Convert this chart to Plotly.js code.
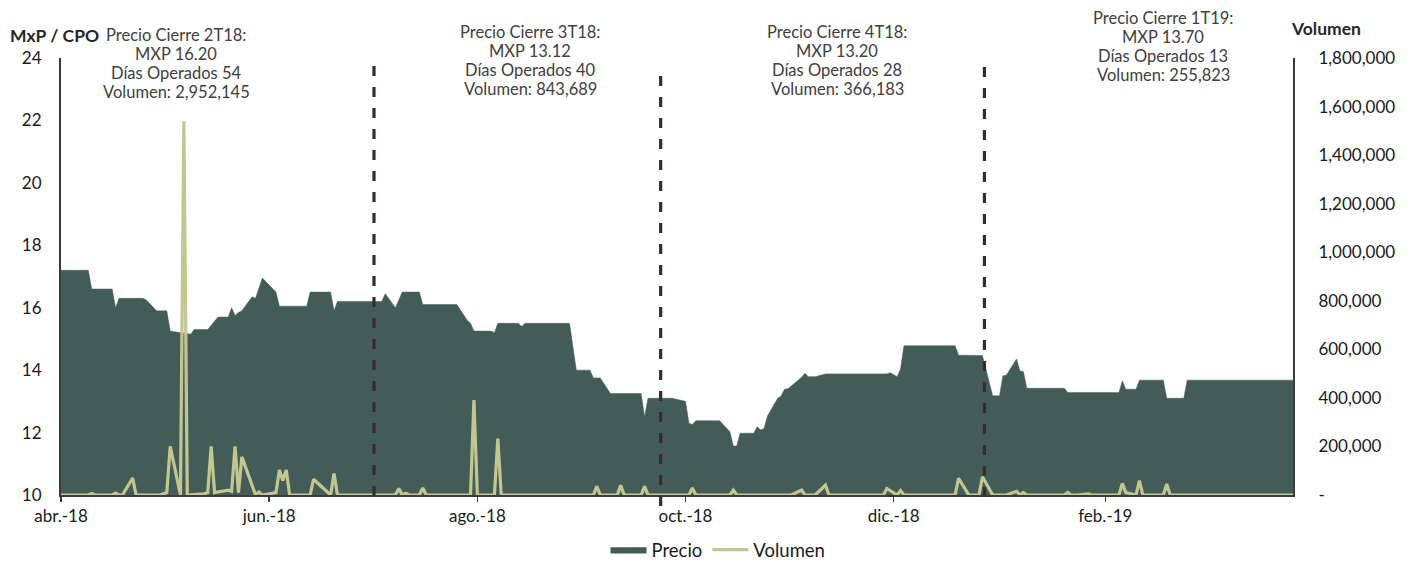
<!DOCTYPE html>
<html>
<head>
<meta charset="utf-8">
<script src="https://cdn.plot.ly/plotly-3.0.1.min.js"></script>
<style>html,body{margin:0;padding:0;background:#fff;}#chart{width:1410px;height:563px;}</style>
</head>
<body>
<div id="chart"></div>
<script>
// ---- Data ----
const precioFechas = ['2018-04-02','2018-04-10','2018-04-11','2018-04-17','2018-04-18','2018-04-19','2018-04-26','2018-04-27','2018-04-30','2018-05-03','2018-05-04','2018-05-07','2018-05-10','2018-05-11','2018-05-15','2018-05-18','2018-05-21','2018-05-22','2018-05-23','2018-05-24','2018-05-25','2018-05-28','2018-05-29','2018-05-31','2018-06-04','2018-06-05','2018-06-13','2018-06-14','2018-06-20','2018-06-21','2018-06-22','2018-07-05','2018-07-06','2018-07-09','2018-07-11','2018-07-16','2018-07-17','2018-07-27','2018-07-30','2018-07-31','2018-08-01','2018-08-06','2018-08-07','2018-08-08','2018-08-14','2018-08-15','2018-08-16','2018-08-29','2018-08-31','2018-09-04','2018-09-05','2018-09-07','2018-09-10','2018-09-19','2018-09-20','2018-09-21','2018-09-28','2018-10-02','2018-10-03','2018-10-04','2018-10-05','2018-10-12','2018-10-15','2018-10-16','2018-10-17','2018-10-18','2018-10-22','2018-10-23','2018-10-24','2018-10-25','2018-10-26','2018-10-29','2018-10-30','2018-10-31','2018-11-01','2018-11-05','2018-11-06','2018-11-07','2018-11-09','2018-11-12','2018-11-30','2018-12-01','2018-12-03','2018-12-04','2018-12-05','2018-12-20','2018-12-21','2018-12-28','2018-12-31','2019-01-02','2019-01-03','2019-01-04','2019-01-07','2019-01-08','2019-01-09','2019-01-10','2019-01-21','2019-01-22','2019-02-06','2019-02-07','2019-02-08','2019-02-11','2019-02-12','2019-02-19','2019-02-20','2019-02-25','2019-02-26','2019-03-29'];
const precio = [17.2,17.2,16.6,16.6,16.0,16.3,16.3,16.25,15.9,15.9,15.25,15.2,15.15,15.3,15.3,15.7,15.7,16.0,15.75,15.85,15.9,16.35,16.3,16.95,16.5,16.05,16.05,16.5,16.5,15.9,16.2,16.2,16.45,16.0,16.5,16.5,16.1,16.1,15.6,15.5,15.25,15.25,15.2,15.5,15.5,15.4,15.5,15.5,14.0,14.0,13.75,13.75,13.25,13.25,12.5,13.1,13.1,13.0,12.3,12.26,12.38,12.38,12.03,11.57,11.57,11.98,11.98,12.19,12.08,12.13,12.53,13.1,13.17,13.39,13.4,13.77,13.9,13.79,13.79,13.88,13.88,13.92,13.79,14.03,14.78,14.78,14.48,14.47,13.18,13.18,13.82,13.84,14.36,13.97,13.96,13.42,13.42,13.28,13.28,13.66,13.39,13.39,13.68,13.68,13.1,13.1,13.68,13.68];

const volumenFechas = ['2018-04-02','2018-04-10','2018-04-11','2018-04-12','2018-04-17','2018-04-18','2018-04-19','2018-04-20','2018-04-23','2018-04-24','2018-05-01','2018-05-03','2018-05-04','2018-05-07','2018-05-08','2018-05-09','2018-05-14','2018-05-15','2018-05-16','2018-05-17','2018-05-21','2018-05-22','2018-05-23','2018-05-24','2018-05-25','2018-05-29','2018-05-30','2018-05-31','2018-06-04','2018-06-05','2018-06-06','2018-06-07','2018-06-08','2018-06-14','2018-06-15','2018-06-20','2018-06-21','2018-06-22','2018-07-09','2018-07-10','2018-07-11','2018-07-12','2018-07-13','2018-07-16','2018-07-17','2018-07-18','2018-07-31','2018-08-01','2018-08-02','2018-08-07','2018-08-08','2018-08-09','2018-09-05','2018-09-06','2018-09-07','2018-09-12','2018-09-13','2018-09-14','2018-09-19','2018-09-20','2018-09-21','2018-10-03','2018-10-04','2018-10-05','2018-10-15','2018-10-16','2018-10-17','2018-11-02','2018-11-05','2018-11-06','2018-11-09','2018-11-12','2018-11-13','2018-11-29','2018-11-30','2018-12-03','2018-12-04','2018-12-05','2018-12-20','2018-12-21','2018-12-24','2018-12-27','2018-12-28','2018-12-31','2019-01-04','2019-01-07','2019-01-08','2019-01-09','2019-01-10','2019-01-21','2019-01-22','2019-01-23','2019-01-25','2019-01-28','2019-01-29','2019-02-06','2019-02-07','2019-02-08','2019-02-11','2019-02-12','2019-02-13','2019-02-19','2019-02-20','2019-02-21','2019-03-29'];
const volumen = [0,0,6000,0,0,8000,0,0,70000,0,0,10000,200000,0,1540000,0,5000,10000,200000,10000,20000,15000,200000,10000,157000,0,12000,0,10000,103000,60000,103000,0,0,65000,0,89000,0,0,27000,0,7000,0,0,29000,0,0,391000,0,0,232000,0,0,36000,0,0,40000,0,0,36000,0,0,29000,0,0,20000,0,0,20000,0,0,41000,0,0,27000,0,18000,0,0,69000,0,0,75000,0,0,15000,0,10000,0,0,10000,0,0,5000,0,0,48000,10000,0,59000,0,0,45000,0,0];

const ejeXFechas = ['2018-04-02','2018-06-02','2018-08-02','2018-10-02','2018-12-02','2019-02-02'];
const ejeXEtiquetas = ['abr.-18','jun.-18','ago.-18','oct.-18','dic.-18','feb.-19'];
const ejeYValores = [10,12,14,16,18,20,22,24];
const ejeY2Valores = [0,200000,400000,600000,800000,1000000,1200000,1400000,1600000,1800000];
const ejeY2Etiquetas = ['-','200,000','400,000','600,000','800,000','1,000,000','1,200,000','1,400,000','1,600,000','1,800,000'];

const cortesTrimestre = ['2018-07-02 17:00','2018-09-24 17:00','2018-12-28 14:00'];
const notas = [
  ['Precio Cierre 2T18:','MXP 16.20','Días Operados 54','Volumen: 2,952,145'],
  ['Precio Cierre 3T18:','MXP 13.12','Días Operados 40','Volumen: 843,689'],
  ['Precio Cierre 4T18:','MXP 13.20','Días Operados 28','Volumen: 366,183'],
  ['Precio Cierre 1T19:','MXP 13.70','Días Operados 13','Volumen: 255,823']
];

// ---- Layout helpers (pixel -> paper) ----
const L = 61, R = 1293, T = 58, B = 495;
const px = x => (x - L) / (R - L);
const py = y => (B - y) / (B - T);

const notaPos = [
  {x:176, y:[35,54,73,92]},
  {x:530, y:[32,51,70,89]},
  {x:837, y:[32,51,70,89]},
  {x:1163, y:[18,37,56,75]}
];
const annotations = [];
notas.forEach((lines, i) => {
  lines.forEach((t, j) => {
    annotations.push({xref:'paper', yref:'paper', x:px(notaPos[i].x), y:py(notaPos[i].y[j]),
      text:t, showarrow:false, xanchor:'center', yanchor:'middle',
      font:{family:'Lato, sans-serif', size:16.5, color:'#404040'}});
  });
});
annotations.push({xref:'paper', yref:'paper', x:px(54), y:py(35), text:'<b>MxP / CPO</b>', showarrow:false,
  xanchor:'center', yanchor:'middle', font:{family:'Lato, sans-serif', size:17.5, color:'#262626'}});
annotations.push({xref:'paper', yref:'paper', x:px(1326), y:py(28), text:'<b>Volumen</b>', showarrow:false,
  xanchor:'center', yanchor:'middle', font:{family:'Lato, sans-serif', size:17.5, color:'#262626'}});

const dashTops = [65, 72, 62];
const dashBottoms = [496, 506, 497];
const shapes = cortesTrimestre.map((d, i) => ({
  type:'line', xref:'x', yref:'paper', x0:d, x1:d, y0:py(dashBottoms[i]), y1:py(dashTops[i]),
  line:{color:'#3a2b2b', width:3.2, dash:'10px,11px'}, layer:'above'
}));

const traces = [
  {x:precioFechas, y:precio, name:'Precio', type:'scatter', mode:'lines', fill:'tozeroy',
   line:{color:'#445c58', width:0.5}, fillcolor:'#445c58', hoverinfo:'skip'},
  {x:volumenFechas, y:volumen, name:'Volumen', type:'scatter', mode:'lines', yaxis:'y2',
   line:{color:'#c2c792', width:3.2}, hoverinfo:'skip'}
];

const layout = {
  width:1410, height:563,
  margin:{l:L, r:1410-R, t:T, b:563-B, autoexpand:false},
  paper_bgcolor:'#ffffff', plot_bgcolor:'#ffffff',
  font:{family:'Lato, sans-serif', size:17, color:'#1a1a1a'},
  showlegend:true,
  legend:{orientation:'h', x:px(718), xanchor:'center', y:py(550), yanchor:'middle',
    font:{family:'Lato, sans-serif', size:18.5, color:'#1a1a1a'}, itemwidth:36, traceorder:'normal'},
  xaxis:{type:'date', range:['2018-04-02','2019-03-29'], tickvals:ejeXFechas, ticktext:ejeXEtiquetas,
    showgrid:false, zeroline:false, showline:true, linecolor:'#3f3838', linewidth:1.5,
    ticks:'outside', ticklen:5, tickwidth:1.5, tickcolor:'#3f3838',
    tickfont:{family:'Lato, sans-serif', size:17, color:'#1a1a1a'}},
  yaxis:{range:[10,24], tickvals:ejeYValores, showgrid:false, zeroline:false,
    showline:true, linecolor:'#3f3838', linewidth:2, ticks:'', ticklabelstandoff:14,
    tickfont:{family:'Lato, sans-serif', size:17, color:'#1a1a1a'}},
  yaxis2:{range:[0,1800000], overlaying:'y', side:'right', tickvals:ejeY2Valores, ticktext:ejeY2Etiquetas,
    showgrid:false, zeroline:false, showline:true, linecolor:'#3f3838', linewidth:2, ticks:'',
    ticklabelstandoff:20,
    tickfont:{family:'Lato, sans-serif', size:17, color:'#1a1a1a'}},
  annotations:annotations,
  shapes:shapes
};

Plotly.newPlot('chart', traces, layout, {staticPlot:true, displayModeBar:false});
</script>
</body>
</html>
